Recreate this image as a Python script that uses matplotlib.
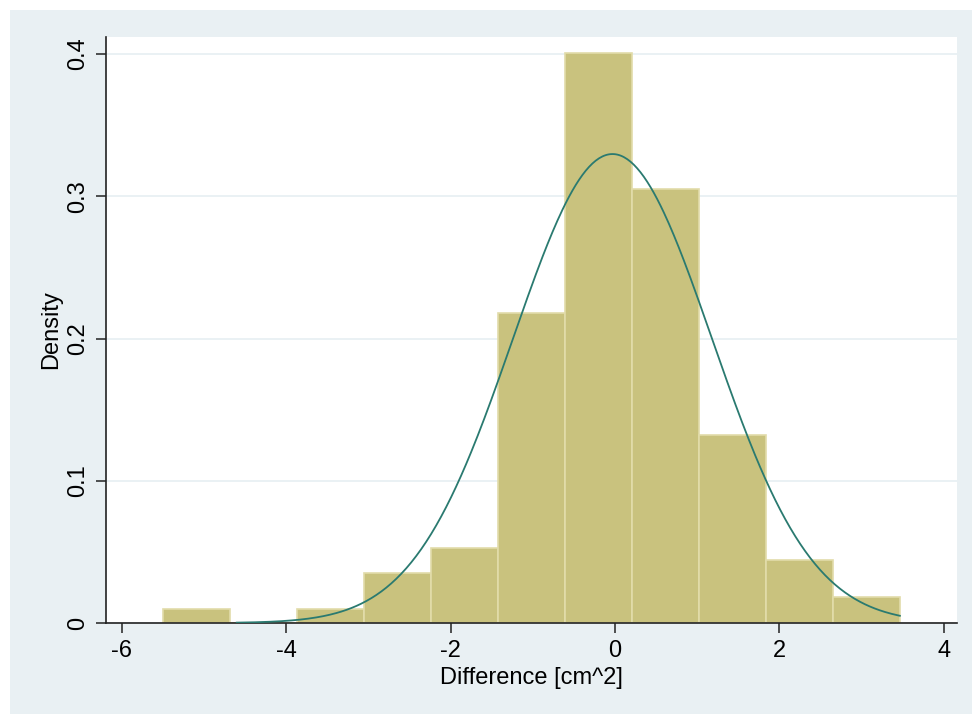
import numpy as np
import matplotlib.pyplot as plt
from matplotlib.patches import Rectangle

plt.rcParams["font.family"] = ["Liberation Sans", "DejaVu Sans"]
plt.rcParams["axes.unicode_minus"] = False

# histogram bins (left edges) and density heights
bin_edges = [-5.50, -4.685, -3.87, -3.055, -2.24, -1.425, -0.61, 0.205, 1.02, 1.835, 2.65, 3.465]
densities = [0.010, 0.000, 0.010, 0.035, 0.053, 0.218, 0.401, 0.305, 0.132, 0.044, 0.018]

# fitted normal overlay
norm_mean = -0.03
norm_sd = 1.21
curve_from, curve_to = -4.6, 3.465

xticks = [-6, -4, -2, 0, 2, 4]
yticks = [0, 0.1, 0.2, 0.3, 0.4]
ytick_labels = ["0", "0.1", "0.2", "0.3", "0.4"]

fig = plt.figure(figsize=(9.72, 7.14), dpi=100)
fig.patch.set_facecolor("white")
# light Stata-style graph region
fig.patches.append(Rectangle((10 / 972, 0), 1 - 10 / 972, 704 / 714,
                             transform=fig.transFigure, facecolor="#e9f0f3",
                             edgecolor="none", zorder=-10))

ax = fig.add_axes([106 / 972, 91 / 714, 851 / 972, 586 / 714])
ax.set_facecolor("white")

lefts = np.array(bin_edges[:-1])
widths = np.diff(bin_edges)
ax.bar(lefts, densities, width=widths, align="edge", color="#c9c27e",
       edgecolor="#e2dcaa", linewidth=1.2, zorder=2)

xs = np.linspace(curve_from, curve_to, 400)
ys = np.exp(-0.5 * ((xs - norm_mean) / norm_sd) ** 2) / (norm_sd * np.sqrt(2 * np.pi))
ax.plot(xs, ys, color="#2a7a70", linewidth=1.3, zorder=3)

ax.set_xlim(-6.19, 4.16)
ax.set_ylim(0, 0.412)
ax.set_xticks(xticks)
ax.set_yticks(yticks)
ax.set_yticklabels(ytick_labels, rotation=90, va="center")
ax.grid(axis="y", color="#e6eff2", linewidth=1.2, zorder=0)
ax.set_axisbelow(True)

for s in ["top", "right"]:
    ax.spines[s].set_visible(False)
for s in ["left", "bottom"]:
    ax.spines[s].set_color("#222222")
    ax.spines[s].set_linewidth(1.2)
ax.tick_params(direction="out", length=7, width=1.1, color="#222222",
               labelsize=17, pad=5)

ax.set_xlabel("Difference [cm^2]", fontsize=17, labelpad=4)
ax.set_ylabel("Density", fontsize=17, labelpad=4)

fig.savefig("out.png", dpi=100, facecolor=fig.get_facecolor())
